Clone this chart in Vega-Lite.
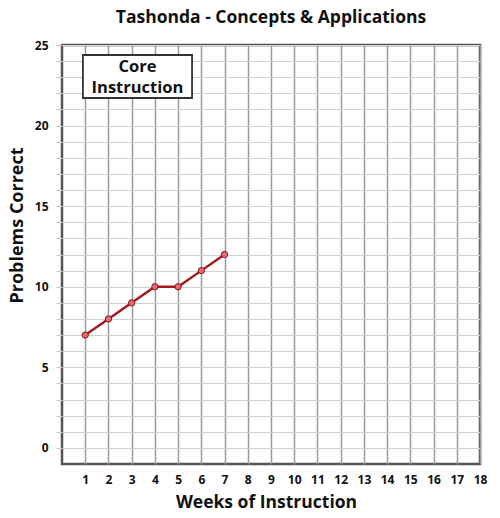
{
  "$schema": "https://vega.github.io/schema/vega-lite/v6.json",
  "width": 418,
  "height": 419,
  "autosize": {"type": "none"},
  "padding": {"left": 62, "top": 45, "right": 20, "bottom": 54},
  "background": "white",
  "title": {
    "text": "Tashonda - Concepts & Applications",
    "font": "Open Sans",
    "fontSize": 17.5,
    "fontWeight": "bold",
    "color": "#111",
    "anchor": "middle",
    "offset": 13
  },
  "config": {
    "view": {"stroke": "#555", "strokeWidth": 2.5},
    "font": "Open Sans"
  },
  "encoding": {
    "x": {
      "field": "week", "type": "quantitative",
      "scale": {"domain": [0, 18], "nice": false, "zero": false},
      "axis": {
        "values": [1,2,3,4,5,6,7,8,9,10,11,12,13,14,15,16,17,18],
        "labelOverlap": false, "labelFlush": false,
        "grid": true, "gridColor": "#9a9a9a", "gridWidth": 1.5,
        "ticks": false, "domain": false,
        "labelFont": "Open Sans", "labelFontSize": 12, "labelFontWeight": "bold", "labelColor": "#111",
        "labelPadding": 10,
        "title": "Weeks of Instruction",
        "titleFont": "Open Sans", "titleFontSize": 17.5, "titleFontWeight": "bold", "titleColor": "#111",
        "titleX": 204, "titleY": 43, "titleBaseline": "alphabetic"
      }
    },
    "y": {
      "field": "correct", "type": "quantitative",
      "scale": {"domain": [-1, 25], "nice": false, "zero": false},
      "axis": {
        "values": [0,1,2,3,4,5,6,7,8,9,10,11,12,13,14,15,16,17,18,19,20,21,22,23,24,25],
        "labelExpr": "datum.value % 5 === 0 ? datum.label : ''",
        "labelOverlap": false, "labelFlush": false,
        "grid": true, "gridColor": "#d0d0d0", "gridWidth": 1.2,
        "ticks": true, "tickColor": "#c8c8c8", "tickSize": 6, "tickWidth": 1.2,
        "domain": false,
        "labelFont": "Open Sans", "labelFontSize": 12, "labelFontWeight": "bold", "labelColor": "#111",
        "labelPadding": 8,
        "title": "Problems Correct",
        "titleFont": "Open Sans", "titleFontSize": 18, "titleFontWeight": "bold", "titleColor": "#111",
        "titleAngle": -90, "titleX": -45, "titleY": 180, "titleBaseline": "middle", "titleAlign": "center"
      }
    }
  },
  "layer": [
    {
      "data": {"values": [
        {"week": 1, "correct": 7},
        {"week": 2, "correct": 8},
        {"week": 3, "correct": 9},
        {"week": 4, "correct": 10},
        {"week": 5, "correct": 10},
        {"week": 6, "correct": 11},
        {"week": 7, "correct": 12}
      ]},
      "mark": {"type": "line", "color": "#a8141c", "strokeWidth": 2.4, "point": {"filled": true, "fill": "#e86a72", "stroke": "#7a1a1a", "strokeWidth": 1, "size": 40}}
    },
    {
      "data": {"values": [{"week": 0.9, "week_end": 5.6, "correct": 24.38, "correct_end": 21.71}]},
      "mark": {"type": "rect", "fill": "white", "stroke": "#333", "strokeWidth": 1.8},
      "encoding": {
        "x2": {"field": "week_end"},
        "y2": {"field": "correct_end"}
      }
    },
    {
      "data": {"values": [{"week": 3.25, "correct": 23.64, "label": ["Core", "Instruction"]}]},
      "mark": {"type": "text", "font": "Open Sans", "fontSize": 16.5, "fontWeight": "bold", "color": "#111", "lineHeight": 21, "baseline": "middle", "align": "center"},
      "encoding": {
        "text": {"field": "label"}
      }
    }
  ]
}
